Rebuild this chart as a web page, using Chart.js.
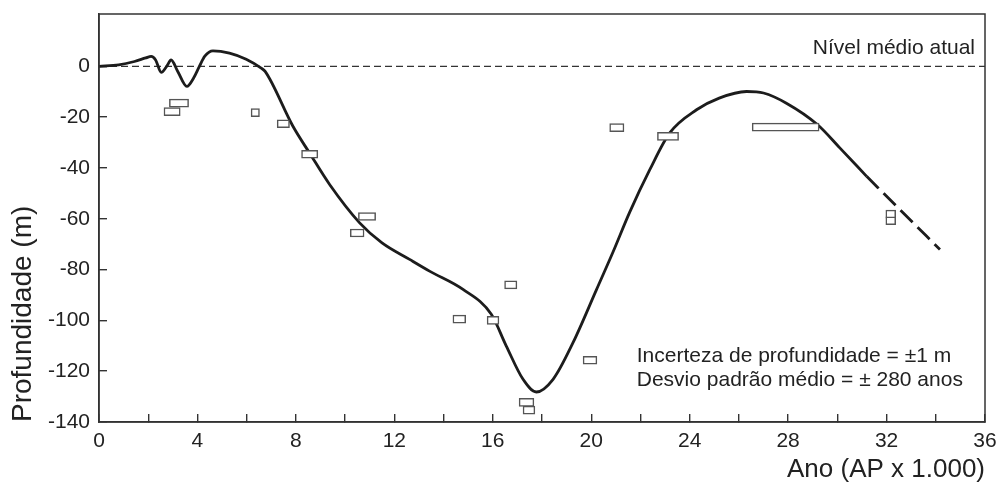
<!DOCTYPE html>
<html>
<head>
<meta charset="utf-8">
<script src="https://cdn.jsdelivr.net/npm/chart.js@4/dist/chart.umd.min.js"></script>
<style>
  body { margin: 0; background: #fff; }
  canvas { display: block; }
</style>
</head>
<body>
<canvas id="graficoNivel" width="998" height="485"></canvas>
<script>
// curva do nível do mar (linha cheia)
const curvaX = [0, 0.8, 1.44, 1.9, 2.12, 2.3, 2.53, 2.75, 2.93, 3.2, 3.57, 3.85, 4.08, 4.3, 4.63, 5.3, 5.98, 6.59, 6.75, 7.88, 8.56, 9.37, 10.59, 11.5, 12.62, 13.43, 14.79, 15.94, 16.55, 17.23, 17.77, 18.45, 19.26, 20.21, 20.89, 21.56, 22.38, 23.19, 24.28, 25.2, 26.31, 27.0, 27.93, 29.2, 30.1, 31.19];
const curvaY = [0, 0.6, 1.9, 3.3, 3.9, 2.5, -2.4, 0, 2.5, -2, -7.9, -4.5, 0, 4, 6.1, 5.2, 2.8, -0.7, -2, -23.6, -34.2, -46.5, -61.6, -69.5, -76, -80.6, -87.8, -97.6, -110.1, -123.2, -128.2, -123.2, -108.8, -88, -73, -57.5, -40.7, -26.2, -17.1, -12.5, -9.9, -10.5, -14.5, -23, -32.1, -43.3];

// trecho estimado (tracejado)
const extrapX = [31.19, 32.54, 34.17];
const extrapY = [-43.3, -56.4, -72.1];

// datações: centro (ka), meia-largura (ka), profundidade (m)
const caixaX = [3.25, 2.97, 6.35, 7.49, 8.56, 10.89, 10.49, 14.64, 16.01, 16.73, 17.37, 17.47, 19.95, 21.04, 23.12, 27.9, 32.17, 32.17];
const caixaErroX = [0.39, 0.33, 0.17, 0.25, 0.33, 0.35, 0.28, 0.26, 0.24, 0.25, 0.3, 0.24, 0.28, 0.29, 0.43, 1.36, 0.2, 0.2];
const caixaY = [-14.5, -17.8, -18.2, -22.6, -34.6, -59.1, -65.6, -99.5, -100, -86, -132.3, -135.3, -115.7, -24.1, -27.6, -23.9, -58.2, -60.8];

const ticksX = [0, 4, 8, 12, 16, 20, 24, 28, 32, 36];
const nivelAtual = 0;

const fonte = '"Liberation Sans", Arial, Helvetica, sans-serif';
Chart.defaults.font.family = fonte;
Chart.defaults.color = "#222";

const textos = {
  id: "textos",
  afterDraw(chart) {
    const { ctx, chartArea, scales } = chart;
    ctx.save();
    ctx.strokeStyle = "#333";
    ctx.lineWidth = 1.5;
    ctx.strokeRect(chartArea.left, chartArea.top, chartArea.right - chartArea.left, chartArea.bottom - chartArea.top);

    ctx.fillStyle = "#222";
    ctx.font = "21px " + fonte;
    ctx.textBaseline = "middle";
    ctx.textAlign = "right";
    ctx.fillText("Nível médio atual", chartArea.right - 10, scales.y.getPixelForValue(7));
    ctx.textAlign = "left";
    const xl = scales.x.getPixelForValue(21.85);
    ctx.fillText("Incerteza de profundidade = \u00b11 m", xl, scales.y.getPixelForValue(-114.1));
    ctx.fillText("Desvio padrão médio = \u00b1 280 anos", xl, scales.y.getPixelForValue(-123.6));
    ctx.restore();
  },
};

new Chart(document.getElementById("graficoNivel"), {
  type: "line",
  data: {
    datasets: [
      {
        type: "bar",
        indexAxis: "y",
        data: caixaX.map((x, i) => ({ x: [x - caixaErroX[i], x + caixaErroX[i]], y: caixaY[i] })),
        backgroundColor: "#fff",
        borderColor: "#555",
        borderWidth: 1.5,
        borderSkipped: false,
        barThickness: 8,
        order: 0,
      },
      {
        data: curvaX.map((x, i) => ({ x, y: curvaY[i] })),
        borderColor: "#1c1c1c",
        borderWidth: 2.8,
        pointRadius: 0,
        cubicInterpolationMode: "monotone",
        order: 1,
      },
      {
        data: extrapX.map((x, i) => ({ x, y: extrapY[i] })),
        borderColor: "#1c1c1c",
        borderWidth: 2.8,
        borderDash: [17, 7],
        pointRadius: 0,
        cubicInterpolationMode: "monotone",
        order: 1,
      },
      {
        data: [{ x: 0, y: nivelAtual }, { x: 36, y: nivelAtual }],
        borderColor: "#333",
        borderWidth: 1.3,
        borderDash: [7, 4],
        pointRadius: 0,
        order: 2,
      },
    ],
  },
  options: {
    responsive: false,
    animation: false,
    events: [],
    layout: { padding: { top: 14, right: 13, left: 0, bottom: 0 } },
    plugins: { legend: { display: false }, tooltip: { enabled: false } },
    scales: {
      x: {
        type: "linear",
        min: 0,
        max: 36,
        offset: false,
        afterBuildTicks: (s) => {
          const t = [];
          for (let v = 0; v <= 36; v += 2) t.push({ value: v });
          s.ticks = t;
        },
        afterFit: (s) => {
          s.height = 63;
          s.paddingLeft = 0;
          s.paddingRight = 0;
        },
        ticks: {
          autoSkip: false,
          maxRotation: 0,
          padding: 15,
          font: { size: 21 },
          callback: (v) => (ticksX.includes(v) ? v : ""),
        },
        grid: { drawOnChartArea: false, offset: false, tickLength: -8, color: "#333", lineWidth: 1.4 },
        border: { color: "#333", width: 1.5 },
        title: {
          display: true,
          text: "Ano (AP x 1.000)",
          align: "end",
          font: { size: 26 },
          padding: { top: 0, bottom: 0 },
        },
      },
      y: {
        type: "linear",
        min: -140,
        max: 20.6,
        offset: false,
        afterBuildTicks: (s) => {
          s.ticks = s.ticks.filter((t) => t.value <= 0 && t.value % 20 === 0);
        },
        afterFit: (s) => {
          s.width = 99;
          s.paddingTop = 0;
          s.paddingBottom = 0;
        },
        ticks: { stepSize: 20, padding: 17, font: { size: 21 } },
        grid: { drawOnChartArea: false, offset: false, tickLength: -8, color: "#333", lineWidth: 1.4 },
        border: { color: "#333", width: 1.5 },
        title: {
          display: true,
          text: "Profundidade (m)",
          align: "start",
          font: { size: 28 },
          padding: { top: 6, bottom: 0 },
        },
      },
    },
  },
  plugins: [textos],
});
</script>
</body>
</html>
